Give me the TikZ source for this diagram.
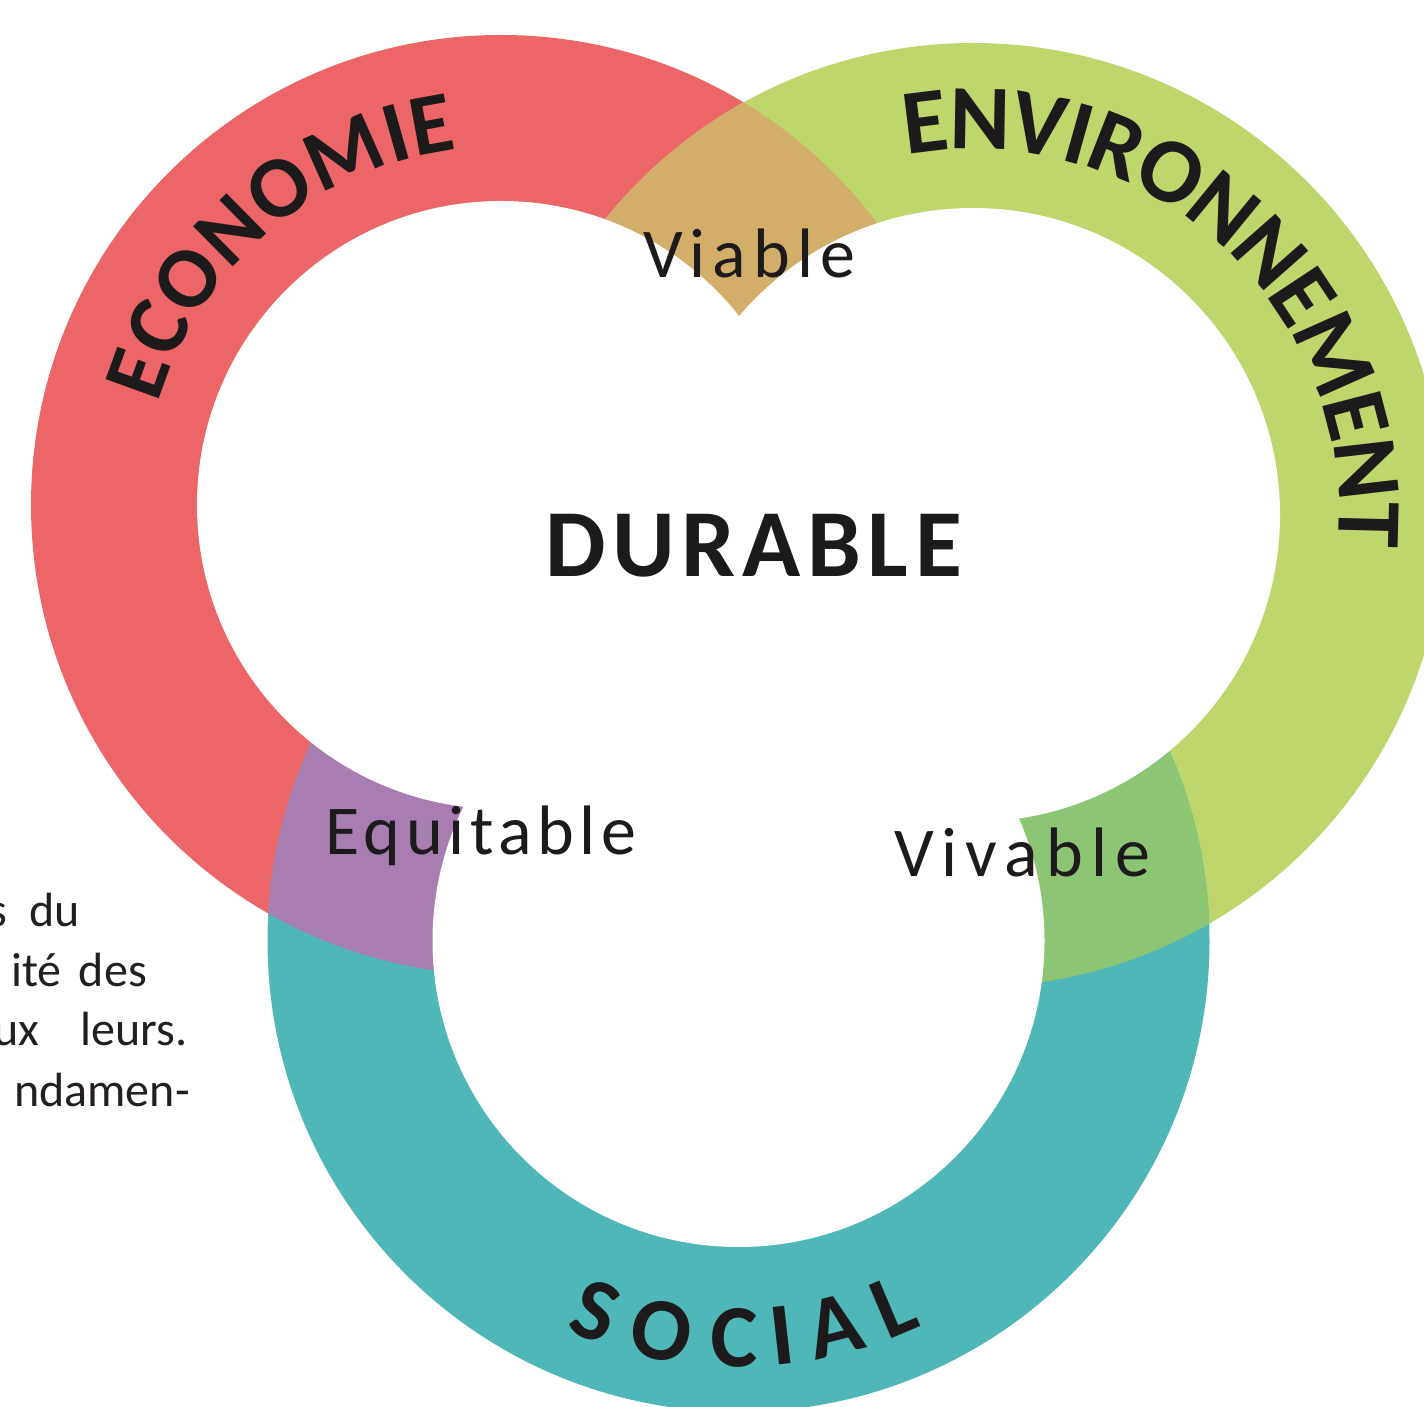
\documentclass[tikz,border=0pt]{standalone}
\usepackage{fontspec}
\setmainfont{Carlito}
\newfontfamily\spacedfont[LetterSpace=10]{Carlito}
\newfontfamily\eqfont[LetterSpace=8]{Carlito}
\newfontfamily\vivfont[LetterSpace=11.5]{Carlito}
\newfontfamily\durfont[LetterSpace=7]{Carlito}
\usetikzlibrary{decorations.text}
\definecolor{econ}{HTML}{EC6567}
\definecolor{envi}{HTML}{BED66C}
\definecolor{soci}{HTML}{4FB7B8}
\definecolor{tanov}{HTML}{D3AE6B}
\definecolor{purov}{HTML}{A87DB2}
\definecolor{grnov}{HTML}{8CC573}
\definecolor{ink}{HTML}{1C1A1B}
\definecolor{pagetext}{HTML}{231F20}
\tikzset{
  lbl/.style={inner sep=0pt, text=ink, font=\spacedfont\fontsize{70}{70}\selectfont},
  dur/.style={inner sep=0pt, text=ink, font=\durfont\fontsize{96}{96}\selectfont\bfseries},
  frag/.style={inner sep=0pt, text=pagetext, font=\fontsize{48}{48}\selectfont, anchor=base east},
  curved/.style 2 args={decorate, decoration={text effects along path, text={#1},
     text effects/.cd, text along path, fit text to path,
     characters={font=\fontsize{#2}{#2}\selectfont\bfseries, text=ink}}}
}
\begin{document}
\begin{tikzpicture}[x=1pt,y=1pt]
\useasboundingbox (0,0) rectangle (1424,1406);
\clip (0,0) rectangle (1424,1406);
\coordinate (ce) at (501,901);
\coordinate (cv) at (973,891);
\coordinate (cs) at (738.5,465);
% outer disks
\fill[econ] (ce) circle[radius=470pt];
\fill[envi] (cv) circle[radius=472pt];
\fill[soci] (cs) circle[radius=471pt];
% overlaps
\begin{scope}
  \clip (ce) circle[radius=470pt];
  \fill[tanov] (cv) circle[radius=472pt];
\end{scope}
\begin{scope}
  \clip (ce) circle[radius=470pt];
  \fill[purov] (cs) circle[radius=471pt];
\end{scope}
\begin{scope}
  \clip (cv) circle[radius=472pt];
  \fill[grnov] (cs) circle[radius=471pt];
\end{scope}
% inner white disks
\fill[white] (ce) circle[radius=304pt];
\fill[white] (cv) circle[radius=307pt];
\fill[white] (cs) circle[radius=306pt];
% curved titles
\path[curved={ECONOMIE}{87}] (ce) ++(163.5:358pt) arc[start angle=163.5, end angle=97, radius=358pt];
\path[curved={ENVIRONNEMENT}{92}] (cv) ++(100.5:366pt) arc[start angle=100.5, end angle=-5, radius=366pt];
\path[curved={SOCIAL}{89}] (cs) ++(-114:426pt) arc[start angle=-114, end angle=-64.5, radius=426pt];
% labels
\node[lbl, anchor=base west] (viable) at (643,1128) {Viable};
\node[lbl, font=\eqfont\fontsize{70}{70}\selectfont, anchor=base west] (equit) at (325,551) {Equitable};
\node[lbl, font=\vivfont\fontsize{70}{70}\selectfont, anchor=base west] (vivable) at (894,529) {Vivable};
\node[dur, anchor=base west] (durable) at (545,829) {DURABLE};
% page text fragments
\node[frag] (f1a) at (7,479) {s};
\node[frag] (f1b) at (80,479) {du};
\node[frag] (f2a) at (62,419) {ité};
\node[frag] (f2b) at (147,419) {des};
\node[frag] (f3a) at (40,360) {ux};
\node[frag] (f3b) at (188,360) {leurs.};
\node[frag] (f4) at (190,299) {ndamen-};
\end{tikzpicture}
\end{document}
